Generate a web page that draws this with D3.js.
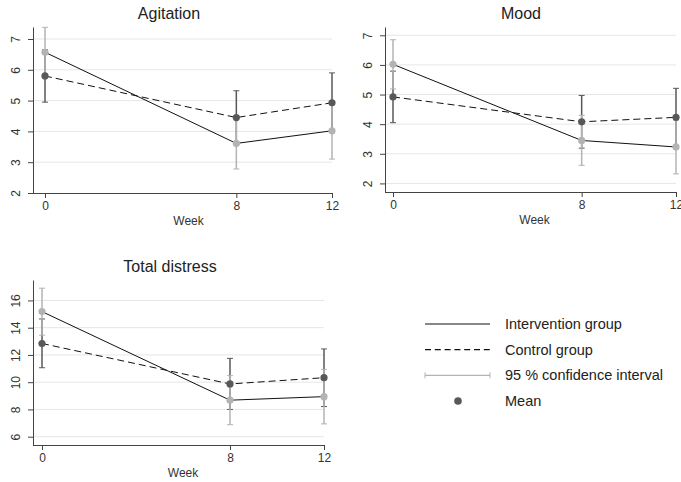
<!DOCTYPE html>
<html lang="en">
<head>
<meta charset="UTF-8">
<title>distress panels</title>
<script src="https://cdn.jsdelivr.net/npm/d3@7"></script>
<style>
    body{ margin:0; background:#fff; }
    svg{ font-family: "Liberation Sans", Arial, Helvetica, sans-serif; }
    .grid{ stroke:#e6e6e6; stroke-width:1; }
    .axisline{ stroke:#444; stroke-width:1; }
    .tick text{ fill:#333; }
</style>
</head>
<body>
<svg id="chart" width="681" height="482"></svg>
<script>
    // weeks on the x axis
    let weeks = [0, 8, 12]

    // Agitation
    let agitationInt = [6.57, 3.61, 4.02]
    let agitationIntLo = [5.76, 2.78, 3.10]
    let agitationIntHi = [7.38, 4.44, 4.94]
    let agitationCtl = [5.80, 4.45, 4.93]
    let agitationCtlLo = [4.95, 3.58, 3.96]
    let agitationCtlHi = [6.65, 5.32, 5.90]
    let agitationTicks = [2, 3, 4, 5, 6, 7]

    // Mood
    let moodInt = [6.02, 3.45, 3.23]
    let moodIntLo = [5.19, 2.61, 2.32]
    let moodIntHi = [6.85, 4.30, 4.14]
    let moodCtl = [4.92, 4.08, 4.23]
    let moodCtlLo = [4.05, 3.19, 3.25]
    let moodCtlHi = [5.79, 4.97, 5.21]
    let moodTicks = [2, 3, 4, 5, 6, 7]

    // Total distress
    let totalInt = [15.18, 8.68, 8.94]
    let totalIntLo = [13.45, 6.88, 6.94]
    let totalIntHi = [16.90, 10.48, 10.94]
    let totalCtl = [12.84, 9.87, 10.33]
    let totalCtlLo = [11.06, 8.00, 8.21]
    let totalCtlHi = [14.64, 11.75, 12.44]
    let totalTicks = [6, 8, 10, 12, 14, 16]

    let legendLabels = ["Intervention group", "Control group", "95 % confidence interval", "Mean"]

    let lightGray = "#b3b3b3"
    let darkGray = "#585858"

    let svg = d3.select("#chart")

    function panel(opt){
        let g = svg.append("g")
        let x = d3.scaleLinear().domain([0, 12]).range([opt.x0, opt.x1])
        let y = d3.scaleLinear().domain(opt.yDomain).range([opt.bottom, opt.top])

        // gridlines
        g.selectAll(".grid")
            .data(opt.ticks.filter(function(t){ return y(t) < opt.bottom - 1 }))
            .enter().append("line")
            .attr("class", "grid")
            .attr("x1", opt.axisX).attr("x2", opt.x1)
            .attr("y1", function(d){ return y(d) }).attr("y2", function(d){ return y(d) })

        // y axis
        let yAxis = g.append("g")
            .attr("transform", "translate(" + opt.axisX + ",0)")
            .call(d3.axisLeft(y).tickValues(opt.ticks).tickSize(5).tickSizeOuter(0).tickFormat(d3.format("d")))
        yAxis.select(".domain").attr("stroke", "#444")
        yAxis.selectAll(".tick line").attr("stroke", "#444")
        yAxis.selectAll(".tick text")
            .attr("font-size", 12)
            .attr("x", null).attr("dy", null)
            .attr("text-anchor", "middle")
            .attr("transform", "translate(-13,0) rotate(-90)")

        // x axis
        g.append("line").attr("class", "axisline")
            .attr("x1", opt.axisX).attr("x2", opt.x1)
            .attr("y1", opt.bottom + 0.5).attr("y2", opt.bottom + 0.5)
        let xAxis = g.append("g")
            .attr("transform", "translate(0," + opt.bottom + ")")
            .call(d3.axisBottom(x).tickValues(weeks).tickSize(5).tickSizeOuter(0))
        xAxis.select(".domain").remove()
        xAxis.selectAll(".tick line").attr("stroke", "#444")
        xAxis.selectAll(".tick text").attr("font-size", 12).attr("dy", "0.72em").attr("y", 8)

        g.append("text")
            .attr("x", (opt.x0 + opt.x1) / 2).attr("y", opt.bottom + 32)
            .attr("text-anchor", "middle").attr("font-size", 12).attr("fill", "#333")
            .text("Week")

        g.append("text")
            .attr("x", opt.titleX).attr("y", opt.top - 8)
            .attr("text-anchor", "middle").attr("font-size", 16).attr("fill", "#222")
            .text(opt.title)

        let line = d3.line().x(function(d, i){ return x(weeks[i]) }).y(function(d){ return y(d) })

        function ci(lo, hi, color){
            let cg = g.append("g").attr("stroke", color).attr("stroke-width", 1.5)
            cg.selectAll("line.bar").data(weeks).enter().append("line")
                .attr("x1", function(d){ return x(d) }).attr("x2", function(d){ return x(d) })
                .attr("y1", function(d, i){ return y(lo[i]) }).attr("y2", function(d, i){ return y(hi[i]) })
            let caps = []
            weeks.forEach(function(w, i){ caps.push([w, lo[i]]); caps.push([w, hi[i]]) })
            cg.selectAll("line.cap").data(caps).enter().append("line")
                .attr("stroke-width", 1)
                .attr("x1", function(d){ return x(d[0]) - 3 }).attr("x2", function(d){ return x(d[0]) + 3 })
                .attr("y1", function(d){ return y(d[1]) }).attr("y2", function(d){ return y(d[1]) })
        }

        ci(opt.ctlLo, opt.ctlHi, darkGray)
        ci(opt.intLo, opt.intHi, lightGray)

        g.append("path").datum(opt.ctl).attr("d", line)
            .attr("fill", "none").attr("stroke", "#111").attr("stroke-width", 1)
            .attr("stroke-dasharray", "7,4")
        g.append("path").datum(opt.int).attr("d", line)
            .attr("fill", "none").attr("stroke", "#111").attr("stroke-width", 1)

        g.selectAll("circle.ctl").data(opt.ctl).enter().append("circle")
            .attr("cx", function(d, i){ return x(weeks[i]) }).attr("cy", function(d){ return y(d) })
            .attr("r", 3.6).attr("fill", darkGray)
        g.selectAll("circle.int").data(opt.int).enter().append("circle")
            .attr("cx", function(d, i){ return x(weeks[i]) }).attr("cy", function(d){ return y(d) })
            .attr("r", 3.6).attr("fill", lightGray)
    }

    panel({title: "Agitation", titleX: 169, axisX: 33, x0: 45, x1: 332, top: 27, bottom: 193,
        yDomain: [2, 7.39], ticks: agitationTicks,
        int: agitationInt, intLo: agitationIntLo, intHi: agitationIntHi,
        ctl: agitationCtl, ctlLo: agitationCtlLo, ctlHi: agitationCtlHi})

    panel({title: "Mood", titleX: 521, axisX: 385, x0: 393, x1: 676, top: 27, bottom: 192,
        yDomain: [1.71, 7.28], ticks: moodTicks,
        int: moodInt, intLo: moodIntLo, intHi: moodIntHi,
        ctl: moodCtl, ctlLo: moodCtlLo, ctlHi: moodCtlHi})

    panel({title: "Total distress", titleX: 170, axisX: 33, x0: 42, x1: 324, top: 280, bottom: 445,
        yDomain: [5.39, 17.5], ticks: totalTicks,
        int: totalInt, intLo: totalIntLo, intHi: totalIntHi,
        ctl: totalCtl, ctlLo: totalCtlLo, ctlHi: totalCtlHi})

    // legend
    let legend = svg.append("g")
    let rowY = d3.scalePoint().domain(legendLabels).range([324, 401])
    legend.selectAll("text").data(legendLabels).enter().append("text")
        .attr("x", 505).attr("y", function(d){ return rowY(d) })
        .attr("dy", "0.35em").attr("font-size", 14.5).attr("fill", "#222")
        .text(function(d){ return d })
    legend.append("line").attr("x1", 425).attr("x2", 490)
        .attr("y1", rowY(legendLabels[0])).attr("y2", rowY(legendLabels[0]))
        .attr("stroke", "#111").attr("stroke-width", 1.2)
    legend.append("line").attr("x1", 425).attr("x2", 490)
        .attr("y1", rowY(legendLabels[1])).attr("y2", rowY(legendLabels[1]))
        .attr("stroke", "#111").attr("stroke-width", 1.2).attr("stroke-dasharray", "6,3.8")
    let ciY = rowY(legendLabels[2])
    legend.append("line").attr("x1", 425).attr("x2", 490).attr("y1", ciY).attr("y2", ciY)
        .attr("stroke", lightGray).attr("stroke-width", 1.2)
    legend.selectAll("line.capl").data([425, 490]).enter().append("line")
        .attr("x1", function(d){ return d }).attr("x2", function(d){ return d })
        .attr("y1", ciY - 3).attr("y2", ciY + 3).attr("stroke", lightGray)
    legend.append("circle").attr("cx", 458).attr("cy", rowY(legendLabels[3]))
        .attr("r", 3.8).attr("fill", darkGray)
</script>
</body>
</html>
